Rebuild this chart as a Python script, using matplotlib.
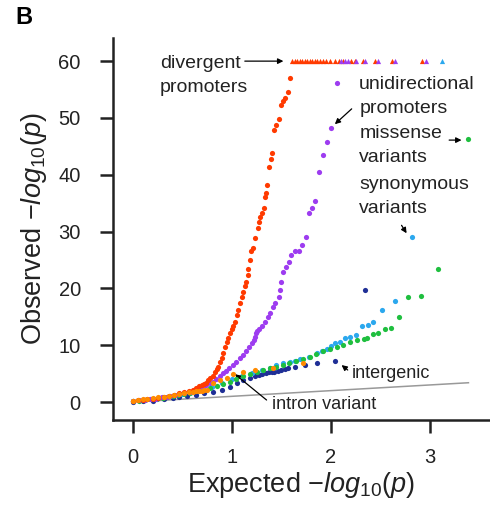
import matplotlib
matplotlib.use("Agg")
import matplotlib.pyplot as plt

plt.rcParams['font.family'] = ['Liberation Sans', 'DejaVu Sans']
plt.rcParams['mathtext.fontset'] = 'custom'
plt.rcParams['mathtext.rm'] = 'Liberation Sans'
plt.rcParams['mathtext.it'] = 'Liberation Sans:italic'

# ---- data (expected vs observed -log10 p) ----
div_x = [0, 0.05, 0.1, 0.14, 0.2, 0.25, 0.31, 0.36, 0.41, 0.47, 0.52, 0.57, 0.61,
         0.64, 0.67, 0.7, 0.72, 0.74, 0.76, 0.78, 0.81, 0.83, 0.85, 0.86, 0.88, 0.9,
         0.91, 0.93, 0.95, 0.96, 0.98, 1.0, 1.01, 1.03, 1.05, 1.06, 1.08, 1.10, 1.11,
         1.13, 1.14, 1.16, 1.165, 1.18, 1.19, 1.21, 1.23, 1.26, 1.27, 1.28, 1.30,
         1.32, 1.335, 1.34, 1.357, 1.37, 1.39, 1.40, 1.43, 1.45, 1.48, 1.50, 1.52,
         1.54, 1.57, 1.59]
div_y = [0.2, 0.3, 0.4, 0.5, 0.6, 0.75, 0.9, 1.05, 1.25, 1.5, 1.75, 2.0, 2.2,
         2.4, 2.8, 3.0, 3.2, 3.4, 3.8, 4.2, 4.6, 5.2, 5.8, 6.2, 7.0, 7.8,
         8.6, 9.6, 10.5, 11.2, 12.1, 12.8, 13.3, 14.1, 15.3, 16.2, 17.4, 18.5, 19.4,
         20.5, 21.2, 22.4, 23.4, 25.0, 26.5, 27.1, 28.8, 30.6, 31.6, 32.6, 33.2,
         34.1, 36.0, 36.7, 38.2, 41.4, 42.8, 43.9, 47.9, 48.8, 49.8, 52.3, 53.0,
         53.5, 54.5, 57.1]
div_cap_x = [1.61, 1.635, 1.66, 1.685, 1.71, 1.735, 1.76, 1.785, 1.81, 1.835, 1.86,
             1.89, 1.92, 1.95, 1.99, 2.04, 2.08, 2.12, 2.20, 2.24, 2.32, 2.45, 2.62, 2.92]

uni_x = [0, 0.06, 0.12, 0.17, 0.23, 0.29, 0.34, 0.37, 0.42, 0.47, 0.52, 0.58, 0.62,
         0.66, 0.71, 0.74, 0.78, 0.81, 0.84, 0.88, 0.91, 0.94, 0.97, 1.01, 1.04, 1.08,
         1.11, 1.14, 1.17, 1.20, 1.22, 1.23, 1.24, 1.25, 1.27, 1.30, 1.33, 1.36, 1.38,
         1.42, 1.44, 1.48, 1.49, 1.50, 1.52, 1.55, 1.58, 1.60, 1.64, 1.68, 1.71, 1.75,
         1.78, 1.81, 1.84, 1.88, 1.92, 1.96, 2.00, 2.06]
uni_y = [0.2, 0.3, 0.4, 0.5, 0.6, 0.8, 0.95, 1.06, 1.2, 1.4, 1.55, 1.8, 2.1,
         2.4, 2.7, 3.0, 3.3, 3.6, 4.0, 4.5, 5.05, 5.4, 5.9, 6.5, 7.0, 7.8,
         8.3, 9.0, 9.6, 10.3, 10.9, 11.5, 12.1, 12.5, 12.8, 13.4, 14.0, 15.0, 15.6,
         16.8, 17.4, 18.5, 19.7, 21.1, 22.8, 23.8, 24.7, 25.9, 26.5, 26.6, 27.6, 29.0,
         33.2, 34.1, 35.4, 40.4, 43.4, 45.8, 48.2, 56.1]
uni_cap_x = [2.10, 2.14, 2.17, 2.25, 2.34, 2.48, 2.65, 2.96]

mis_x = [0, 0.06, 0.12, 0.18, 0.24, 0.3, 0.34, 0.4, 0.46, 0.52, 0.58, 0.64, 0.71,
         0.78, 0.85, 0.91, 0.98, 1.04, 1.11, 1.18, 1.25, 1.31, 1.38, 1.45, 1.52, 1.58,
         1.65, 1.72, 1.79, 1.85, 1.92, 1.99, 2.06, 2.12, 2.19, 2.26, 2.33, 2.36, 2.43,
         2.48, 2.55, 2.61, 2.69, 2.78, 2.91, 3.08, 3.39]
mis_y = [0.1, 0.2, 0.3, 0.45, 0.6, 0.75, 0.85, 1.0, 1.2, 1.4, 1.6, 1.85, 2.1,
         2.45, 2.8, 3.2, 3.6, 4.05, 4.5, 4.9, 5.3, 5.6, 5.9, 6.2, 6.5, 6.9,
         7.3, 7.65, 8.0, 8.4, 8.9, 9.3, 9.7, 10.1, 10.6, 10.9, 11.1, 11.2, 12.0,
         12.2, 12.8, 13.1, 15.0, 18.4, 18.7, 23.4, 46.3]

syn_x = [0, 0.1, 0.2, 0.3, 0.4, 0.5, 0.6, 0.7, 0.8, 0.9, 1.0, 1.1, 1.2, 1.3, 1.38,
         1.45, 1.52, 1.59, 1.64, 1.69, 1.78, 1.86, 1.91, 1.96, 2.0, 2.04, 2.09, 2.14,
         2.19, 2.25, 2.31, 2.38, 2.43, 2.52, 2.65, 2.82]
syn_y = [0.1, 0.3, 0.5, 0.8, 1.1, 1.4, 1.8, 2.2, 2.7, 3.3, 4.0, 4.6, 5.1, 5.6, 6.0,
         6.5, 6.8, 7.1, 7.3, 7.5, 8.0, 8.6, 9.0, 9.4, 9.8, 10.3, 10.6, 11.2,
         11.4, 11.8, 13.4, 13.5, 14.0, 16.2, 17.7, 29.0]
syn_cap_x = [3.12]

inter_x = [0, 0.1, 0.2, 0.31, 0.4, 0.47, 0.55, 0.64, 0.72, 0.81, 0.9, 0.98, 1.05,
           1.11, 1.18, 1.23, 1.27, 1.30, 1.34, 1.37, 1.40, 1.43, 1.47, 1.50, 1.54,
           1.57, 1.64, 1.74, 1.86, 2.04, 2.34]
inter_y = [0.05, 0.15, 0.25, 0.5, 0.65, 0.8, 1.0, 1.2, 1.5, 1.8, 2.2, 2.7, 3.3,
           3.9, 4.3, 4.6, 4.8, 4.9, 5.1, 5.2, 5.25, 5.3, 5.5, 5.6, 5.75,
           5.9, 6.2, 6.6, 6.9, 7.3, 19.7]

intron_x = [0, 0.05, 0.1, 0.14, 0.2, 0.25, 0.31, 0.36, 0.41, 0.47, 0.52, 0.57, 0.61,
            0.64, 0.67, 0.70, 0.72, 0.75, 0.81, 0.88, 0.95, 1.01, 1.11, 1.23, 1.42, 1.72]
intron_y = [0.2, 0.3, 0.45, 0.55, 0.7, 0.8, 0.9, 1.05, 1.2, 1.4, 1.55, 1.7, 1.8,
            1.9, 1.95, 2.0, 2.05, 2.2, 3.3, 3.9, 4.3, 4.9, 5.2, 5.6, 6.0, 6.9]

CAP = 60
null_x = [0, 3.39]

c_div = '#ff3a00'
c_uni = '#9d3cf0'
c_mis = '#1fbf3f'
c_syn = '#2ba8ee'
c_int = '#1f2f96'
c_itr = '#ff8a00'

fig = plt.figure(figsize=(4.9, 5.17), dpi=100)
ax = fig.add_axes([0.2316, 0.1876, 0.766, 0.739])

ax.plot(null_x, null_x, color='#999999', lw=1.1, zorder=1)

s = 14
ax.scatter(inter_x, inter_y, s=s, color=c_int, lw=0, zorder=2)
ax.scatter(syn_x, syn_y, s=s, color=c_syn, lw=0, zorder=3)
ax.scatter(mis_x, mis_y, s=s, color=c_mis, lw=0, zorder=4)
ax.scatter(uni_x, uni_y, s=s, color=c_uni, lw=0, zorder=5)
ax.scatter(div_x, div_y, s=s, color=c_div, lw=0, zorder=6)
ax.scatter(intron_x, intron_y, s=s, color=c_itr, lw=0, zorder=7)

ax.scatter(div_cap_x, [CAP] * len(div_cap_x), s=14, marker='^', color=c_div, lw=0, zorder=6)
ax.scatter(uni_cap_x, [CAP] * len(uni_cap_x), s=14, marker='^', color=c_uni, lw=0, zorder=7)
ax.scatter(syn_cap_x, [CAP] * len(syn_cap_x), s=14, marker='^', color=c_syn, lw=0, zorder=7)

ax.set_xlim(-0.197, 3.596)
ax.set_ylim(-3.17, 64.08)
ax.set_xticks([0, 1, 2, 3])
ax.set_yticks([0, 10, 20, 30, 40, 50, 60])

for side in ['top', 'right']:
    ax.spines[side].set_visible(False)
for side in ['left', 'bottom']:
    ax.spines[side].set_linewidth(1.8)
    ax.spines[side].set_color('#222222')
ax.tick_params(length=9.5, width=1.8, color='#222222', labelsize=14.5,
               labelcolor='#222222', pad=14)
ax.tick_params(axis='x', pad=11)

ax.set_xlabel(r'Expected $-log_{10}(p)$', fontsize=19.5, color='#222222', labelpad=2)
ax.set_ylabel(r'Observed $-log_{10}(p)$', fontsize=19.5, color='#222222', labelpad=7)

arrow = dict(arrowstyle='-|>', color='black', lw=0.9, mutation_scale=8,
             shrinkA=0, shrinkB=0)
tcol = '#222222'
fs_top = 14
fs_low = 13
ls = 1.5

# va='baseline' on multi-line text anchors the last line's baseline
ax.text(0.27, 54.6, 'divergent\npromoters', fontsize=fs_top, color=tcol,
        va='baseline', linespacing=ls)
ax.annotate('', xy=(1.52, 60.0), xytext=(1.13, 60.0), arrowprops=arrow)

ax.text(2.286, 50.9, 'unidirectional\npromoters', fontsize=fs_top, color=tcol,
        va='baseline', linespacing=ls)
ax.annotate('', xy=(2.04, 48.9), xytext=(2.21, 51.6), arrowprops=arrow)

ax.text(2.286, 42.25, 'missense\nvariants', fontsize=fs_top, color=tcol,
        va='baseline', linespacing=ls)
ax.annotate('', xy=(3.32, 46.1), xytext=(3.195, 46.1), arrowprops=arrow)

ax.text(2.286, 33.3, 'synonymous\nvariants', fontsize=fs_top, color=tcol,
        va='baseline', linespacing=ls)
ax.annotate('', xy=(2.765, 29.7), xytext=(2.714, 31.1), arrowprops=arrow)

ax.text(2.215, 4.17, 'intergenic', fontsize=fs_low, color=tcol, va='baseline')
ax.annotate('', xy=(2.108, 6.5), xytext=(2.17, 5.63), arrowprops=arrow)

ax.text(1.407, -1.23, 'intron variant', fontsize=fs_low, color=tcol, va='baseline')
ax.annotate('', xy=(1.03, 4.9), xytext=(1.35, 0.35), arrowprops=arrow)

fig.text(15 / 490, 1 - 24 / 517, 'B', fontsize=17, fontweight='bold', va='baseline')

fig.savefig('out.png', dpi=100)
